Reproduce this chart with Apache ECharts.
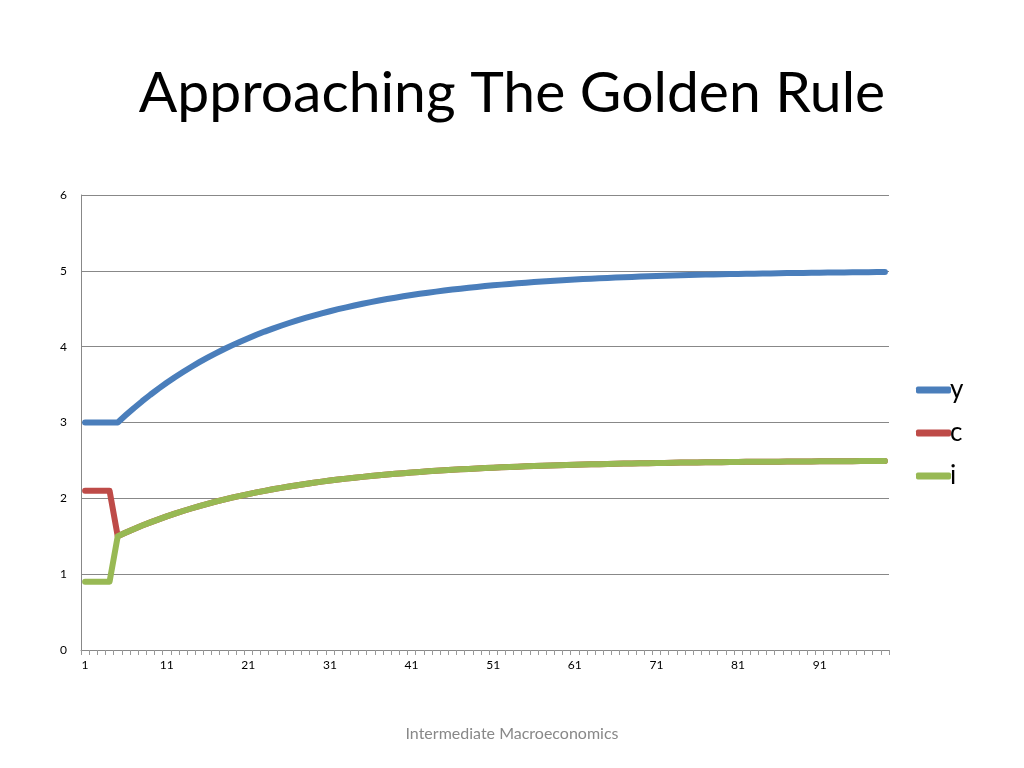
<!DOCTYPE html>
<html>
<head>
<meta charset="utf-8">
<script src="https://cdn.jsdelivr.net/npm/echarts@6/dist/echarts.min.js"></script>
<style>
  html, body { margin: 0; padding: 0; background: #fff; }
  #main { width: 1024px; height: 768px; }
</style>
</head>
<body>
<div id="main"></div>
<script>
// periods 1..99
var periods = [];
for (var p = 1; p <= 99; p++) periods.push(String(p));

var yValues = [3, 3, 3, 3, 3, 3.098, 3.192, 3.281, 3.366, 3.447,
  3.524, 3.597, 3.666, 3.732, 3.795, 3.855, 3.912, 3.966, 4.017, 4.066,
  4.112, 4.157, 4.199, 4.238, 4.276, 4.312, 4.347, 4.379, 4.410, 4.439,
  4.467, 4.494, 4.519, 4.543, 4.566, 4.588, 4.608, 4.628, 4.646, 4.664,
  4.681, 4.697, 4.712, 4.726, 4.740, 4.753, 4.765, 4.777, 4.788, 4.799,
  4.809, 4.818, 4.827, 4.836, 4.844, 4.852, 4.859, 4.866, 4.873, 4.879,
  4.885, 4.891, 4.897, 4.902, 4.907, 4.911, 4.916, 4.920, 4.924, 4.928,
  4.931, 4.935, 4.938, 4.941, 4.944, 4.947, 4.950, 4.952, 4.954, 4.957,
  4.959, 4.961, 4.963, 4.965, 4.966, 4.968, 4.970, 4.971, 4.973, 4.974,
  4.975, 4.977, 4.978, 4.979, 4.980, 4.981, 4.982, 4.983, 4.984];

var cValues = [2.1, 2.1, 2.1, 2.1, 1.500, 1.549, 1.596, 1.641, 1.683, 1.723,
  1.762, 1.798, 1.833, 1.866, 1.898, 1.927, 1.956, 1.983, 2.009, 2.033,
  2.056, 2.078, 2.099, 2.119, 2.138, 2.156, 2.173, 2.190, 2.205, 2.220,
  2.234, 2.247, 2.260, 2.272, 2.283, 2.294, 2.304, 2.314, 2.323, 2.332,
  2.340, 2.348, 2.356, 2.363, 2.370, 2.376, 2.383, 2.388, 2.394, 2.399,
  2.404, 2.409, 2.414, 2.418, 2.422, 2.426, 2.430, 2.433, 2.436, 2.440,
  2.443, 2.446, 2.448, 2.451, 2.453, 2.456, 2.458, 2.460, 2.462, 2.464,
  2.466, 2.467, 2.469, 2.471, 2.472, 2.473, 2.475, 2.476, 2.477, 2.478,
  2.479, 2.481, 2.482, 2.482, 2.483, 2.484, 2.485, 2.486, 2.486, 2.487,
  2.488, 2.488, 2.489, 2.490, 2.490, 2.491, 2.491, 2.492, 2.492];

var iValues = [0.9, 0.9, 0.9, 0.9, 1.500, 1.549, 1.596, 1.641, 1.683, 1.723,
  1.762, 1.798, 1.833, 1.866, 1.898, 1.927, 1.956, 1.983, 2.009, 2.033,
  2.056, 2.078, 2.099, 2.119, 2.138, 2.156, 2.173, 2.190, 2.205, 2.220,
  2.234, 2.247, 2.260, 2.272, 2.283, 2.294, 2.304, 2.314, 2.323, 2.332,
  2.340, 2.348, 2.356, 2.363, 2.370, 2.376, 2.383, 2.388, 2.394, 2.399,
  2.404, 2.409, 2.414, 2.418, 2.422, 2.426, 2.430, 2.433, 2.436, 2.440,
  2.443, 2.446, 2.448, 2.451, 2.453, 2.456, 2.458, 2.460, 2.462, 2.464,
  2.466, 2.467, 2.469, 2.471, 2.472, 2.473, 2.475, 2.476, 2.477, 2.478,
  2.479, 2.481, 2.482, 2.482, 2.483, 2.484, 2.485, 2.486, 2.486, 2.487,
  2.488, 2.488, 2.489, 2.490, 2.490, 2.491, 2.491, 2.492, 2.492];

var chart = echarts.init(document.getElementById('main'));

function lineSeries(name, data, color) {
  return {
    name: name,
    type: 'line',
    data: data,
    symbol: 'none',
    smooth: false,
    lineStyle: { width: 6, color: color, cap: 'round', join: 'round' },
    itemStyle: { color: color }
  };
}

var option = {
  backgroundColor: '#fff',
  animation: false,
  title: [{
    text: 'Approaching The Golden Rule',
    left: 'center',
    top: 60,
    textStyle: { fontFamily: 'Lato', fontWeight: 'normal', fontSize: 57, color: '#000' }
  }, {
    text: 'Intermediate Macroeconomics',
    left: 'center',
    top: 721,
    textStyle: { fontFamily: 'Lato', fontWeight: 'normal', fontSize: 16, color: '#888' }
  }],
  legend: {
    orient: 'vertical',
    left: 911,
    top: 372,
    itemGap: 17,
    itemWidth: 35,
    itemHeight: 7,
    icon: 'roundRect',
    data: ['y', 'c', 'i'],
    textStyle: { fontFamily: 'Lato', fontSize: 26, color: '#000', padding: [0, 0, 0, -6] }
  },
  grid: { left: 81, right: 135, top: 195, bottom: 118 },
  xAxis: {
    type: 'category',
    data: periods,
    boundaryGap: true,
    axisLine: { lineStyle: { color: '#888', width: 1 } },
    axisTick: { show: true, interval: 0, length: 5, lineStyle: { color: '#999', width: 1 } },
    axisLabel: { interval: 9, color: '#000', fontSize: 12, fontFamily: 'Lato', margin: 9 },
    splitLine: { show: false }
  },
  yAxis: {
    type: 'value',
    min: 0,
    max: 6,
    interval: 1,
    axisLine: { show: true, lineStyle: { color: '#888', width: 1 } },
    axisTick: { show: false },
    axisLabel: { color: '#000', fontSize: 12, fontFamily: 'Lato', margin: 14 },
    splitLine: { lineStyle: { color: '#888', width: 1 } }
  },
  series: [
    lineSeries('y', yValues, '#4a7ebb'),
    lineSeries('c', cValues, '#be4b48'),
    lineSeries('i', iValues, '#98b954')
  ]
};

chart.setOption(option);
</script>
</body>
</html>
